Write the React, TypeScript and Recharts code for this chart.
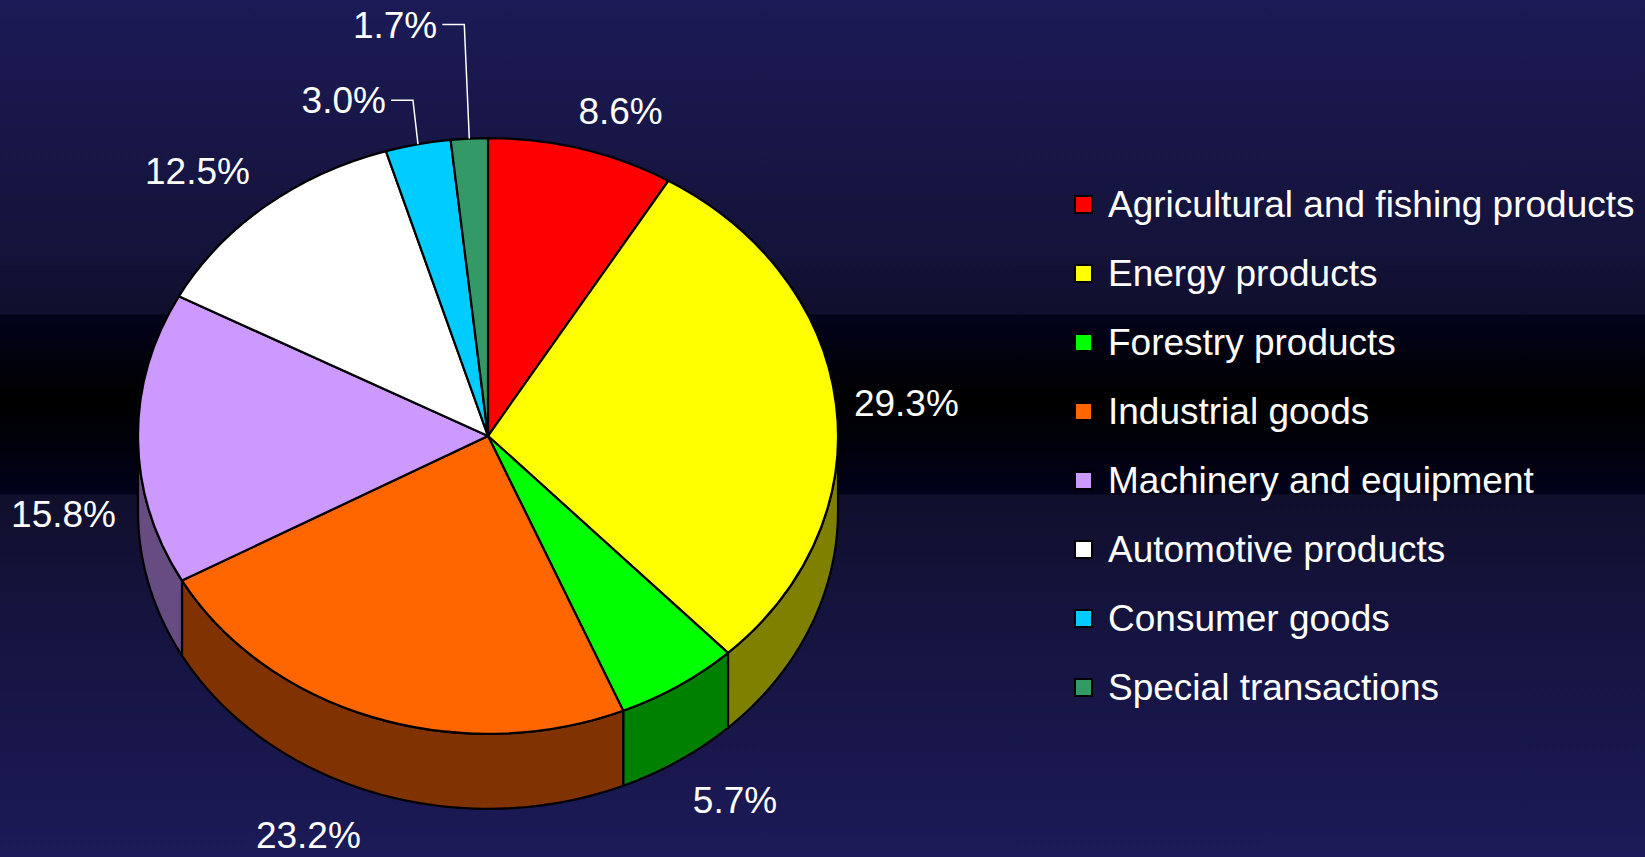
import React from 'react';
import { PieChart, Pie, Cell, Legend } from 'recharts';

const categories = [
  'Agricultural and fishing products',
  'Energy products',
  'Forestry products',
  'Industrial goods',
  'Machinery and equipment',
  'Automotive products',
  'Consumer goods',
  'Special transactions',
];
const shares = [8.6, 29.3, 5.7, 23.2, 15.8, 12.5, 3.0, 1.7];

const TOP_COLORS = ['#FF0000', '#FFFF00', '#00FF00', '#FF6600', '#CC99FF', '#FFFFFF', '#00CCFF', '#339966'];
const SIDE_COLORS = ['#800000', '#808000', '#008000', '#803300', '#664C80', '#808080', '#006680', '#1A4D33'];

const W = 1645;
const H = 857;
const CX = 488;
const CY = 436;
const R = 350;
const TILT = 0.851; // vertical squash of the pie ellipse
const DEPTH = 75;
const FONT = '"Liberation Sans Narrow", "Arial Narrow", "Liberation Sans", sans-serif';
const FS = 37;
const RAD = Math.PI / 180;

const data = categories.map((name, i) => ({ name, value: shares[i] }));

const pt = (cx: number, cy: number, r: number, a: number) => [
  cx + r * Math.cos(-a * RAD),
  cy + r * TILT * Math.sin(-a * RAD),
];

function TopShape(p: any) {
  const { cx, cy, outerRadius, startAngle, endAngle, fill } = p;
  const [x0, y0] = pt(cx, cy, outerRadius, startAngle);
  const [x1, y1] = pt(cx, cy, outerRadius, endAngle);
  const large = Math.abs(startAngle - endAngle) > 180 ? 1 : 0;
  const sweep = startAngle > endAngle ? 1 : 0;
  const d = `M${cx},${cy} L${x0},${y0} A${outerRadius},${outerRadius * TILT} 0 ${large} ${sweep} ${x1},${y1} Z`;
  return <path d={d} fill={fill} stroke="#000" strokeWidth={2.2} strokeLinejoin="round" />;
}

function WallShape(p: any) {
  const { cx, cy, outerRadius, startAngle, endAngle, fill } = p;
  const s = Math.max(startAngle, endAngle);
  const e = Math.min(startAngle, endAngle);
  const hi = Math.min(s, 0);
  const lo = Math.max(e, -180);
  if (hi <= lo) return <g />;
  const n = 60;
  const top: string[] = [];
  const bot: string[] = [];
  for (let i = 0; i <= n; i++) {
    const a = hi - ((hi - lo) * i) / n;
    const [x, y] = pt(cx, cy, outerRadius, a);
    top.push(`${x},${y}`);
    bot.unshift(`${x},${y + DEPTH}`);
  }
  const d = `M${top.join(' L')} L${bot.join(' L')} Z`;
  return <path d={d} fill={fill} stroke="#000" strokeWidth={2.2} strokeLinejoin="round" />;
}

function renderLabel(p: any) {
  const { cx, cy, midAngle, outerRadius, value, index } = p;
  const c = Math.cos(-midAngle * RAD);
  const s = Math.sin(-midAngle * RAD);
  const [ex, ey] = pt(cx, cy, outerRadius, midAngle);
  const text = `${Number(value).toFixed(1)}%`;
  const cap = FS * 0.72;

  if (value < 5 && s < 0) {
    // small top slices get a leader line, stacked upward
    const k = shares.slice(0, index).filter((v) => v < 5).length;
    const lift = 44 + 70 * k;
    const bx = ex - 5;
    const by = ey - lift;
    return (
      <g>
        <polyline points={`${ex},${ey} ${bx},${by} ${bx - 22},${by}`} fill="none" stroke="#fff" strokeWidth={1.5} />
        <text x={bx - 27} y={by + cap / 2} textAnchor="end" fill="#fff" fontSize={FS} fontFamily={FONT}>
          {text}
        </text>
      </g>
    );
  }

  const anchor = c > 0.15 ? 'start' : c < -0.15 ? 'end' : 'middle';
  const baseY = ey + (s > -0.05 ? DEPTH : 0);
  const g = s > 0.3 ? 26 : 18;
  const tx = ex + g * c - (anchor === 'start' && s < -0.3 ? 8 : 0) - (anchor === 'end' ? 4 : 0);
  const ty = baseY + g * s;
  let y = ty + cap / 2;
  if (s < -0.3) y = ty - 8;
  else if (s > 0.3) y = ty + cap + 4;
  return (
    <text x={tx} y={y} textAnchor={anchor} fill="#fff" fontSize={FS} fontFamily={FONT}>
      {text}
    </text>
  );
}

function renderLegend(props: any) {
  const items = (props.payload || [])
    .filter((it: any) => it.type !== 'none')
    .slice()
    .sort((a: any, b: any) => categories.indexOf(a.value) - categories.indexOf(b.value));
  return (
    <div style={{ fontFamily: FONT }}>
      {items.map((it: any) => (
        <div key={it.value} style={{ height: 69, display: 'flex', alignItems: 'center' }}>
          <span
            style={{
              width: 15,
              height: 15,
              background: it.color,
              border: '2px solid #000',
              marginRight: 15,
              marginLeft: 2,
              flex: 'none',
            }}
          />
          <span style={{ color: '#fff', fontSize: FS, whiteSpace: 'nowrap', lineHeight: 1 }}>{it.value}</span>
        </div>
      ))}
    </div>
  );
}

export default function App() {
  return (
    <div
      style={{
        position: 'fixed',
        left: 0,
        top: 0,
        width: W,
        height: H,
        background:
          'linear-gradient(to bottom, #1c1a56 0px, #14133a 250px, #100f2c 314px, #03031c 315px, #000000 400px, #02021a 494px, #100f2c 495px, #14133c 600px, #1c1a58 857px)',
      }}
    >
      <PieChart width={W} height={H} margin={{ top: 0, right: 0, bottom: 0, left: 0 }}>
        <Pie
          data={data}
          dataKey="value"
          nameKey="name"
          cx={CX}
          cy={CY}
          outerRadius={R}
          startAngle={90}
          endAngle={-270}
          isAnimationActive={false}
          legendType="none"
          shape={WallShape}
          inactiveShape={WallShape}
          activeShape={WallShape}
          stroke="none"
        >
          {data.map((d, i) => (
            <Cell key={`w-${d.name}`} fill={SIDE_COLORS[i]} />
          ))}
        </Pie>
        <Pie
          data={data}
          dataKey="value"
          nameKey="name"
          cx={CX}
          cy={CY}
          outerRadius={R}
          startAngle={90}
          endAngle={-270}
          isAnimationActive={false}
          legendType="square"
          shape={TopShape}
          inactiveShape={TopShape}
          activeShape={TopShape}
          label={renderLabel}
          labelLine={false}
          stroke="none"
        >
          {data.map((d, i) => (
            <Cell key={`t-${d.name}`} fill={TOP_COLORS[i]} />
          ))}
        </Pie>
        <Legend
          layout="vertical"
          content={renderLegend}
          wrapperStyle={{ left: 1072, top: 170, width: 570, right: 'auto', bottom: 'auto' }}
        />
      </PieChart>
    </div>
  );
}
